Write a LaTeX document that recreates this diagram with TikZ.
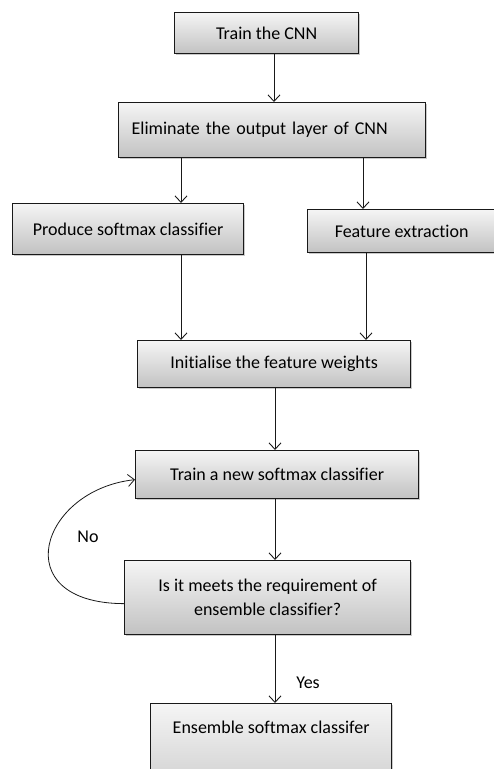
\documentclass[tikz,border=0pt]{standalone}
\usepackage{fontspec}
\setmainfont[Ligatures={NoCommon}]{Carlito}
\usetikzlibrary{arrows.meta,shadows}
\begin{document}
\begin{tikzpicture}[x=1pt,y=-1pt,
  box/.style={draw=black!90, line width=1.3pt, rectangle, anchor=north west,
    top color=white!96!black, bottom color=black!24,
    drop shadow={shadow xshift=1.5pt,shadow yshift=-1.5pt,opacity=0.35,fill=black!60},
    inner sep=0pt, font=\fontsize{18}{24}\selectfont, align=center},
  arr/.style={-{Straight Barb[length=6.5pt,width=12pt]}, line width=0.9pt, draw=black!90},
  lbl/.style={font=\fontsize{18}{22}\selectfont, inner sep=0pt}]
\useasboundingbox (0,0) rectangle (494,769);
\clip (0,0) rectangle (494,769);
\node[box, minimum width=184pt, minimum height=41pt] (b1) at (174,12) {Train the CNN};
\node[box, minimum width=307pt, minimum height=55pt, text width=281pt, inner xsep=13pt, align=left] (b2) at (118,102) {Eliminate the output layer of CNN};
\node[box, minimum width=231pt, minimum height=51pt] (b3) at (12,203) {Produce softmax classifier};
\node[box, minimum width=188pt, minimum height=43pt] (b4) at (307,209) {Feature extraction};
\node[box, minimum width=273pt, minimum height=47pt] (b5) at (137,340) {Initialise the feature weights};
\node[box, minimum width=283pt, minimum height=48pt] (b6) at (135,450) {Train a new softmax classifier};
\node[box, minimum width=286pt, minimum height=74pt] (b7) at (124,560) {Is it meets the requirement of\\ ensemble classifier?};
\node[box, minimum width=241pt, text height=30pt, text depth=87pt] (b8) at (150,703) {Ensemble softmax classifer};
\draw[arr] (274,0 |- b1.south) -- (274,0 |- b2.north);
\draw[arr] (181,0 |- b2.south) -- (181,0 |- b3.north);
\draw[arr] (363,0 |- b2.south) -- (363,0 |- b4.north);
\draw[arr] (181,0 |- b3.south) -- (181,0 |- b5.north);
\draw[arr] (366,0 |- b4.south) -- (366,0 |- b5.north);
\draw[arr] (275,0 |- b5.south) -- (275,0 |- b6.north);
\draw[arr] (275,0 |- b6.south) -- (275,0 |- b7.north);
\draw[arr] (275,0 |- b7.south) -- (275,0 |- b8.north);
\draw[arr, line width=0.8pt] ([yshift=-6pt]b7.west) .. controls (5,603) and (40,490) .. ([yshift=-5pt]b6.west);
\node[lbl] (no) at (88,537) {No};
\node[lbl] (yes) at (308,683) {Yes};
\end{tikzpicture}
\end{document}
